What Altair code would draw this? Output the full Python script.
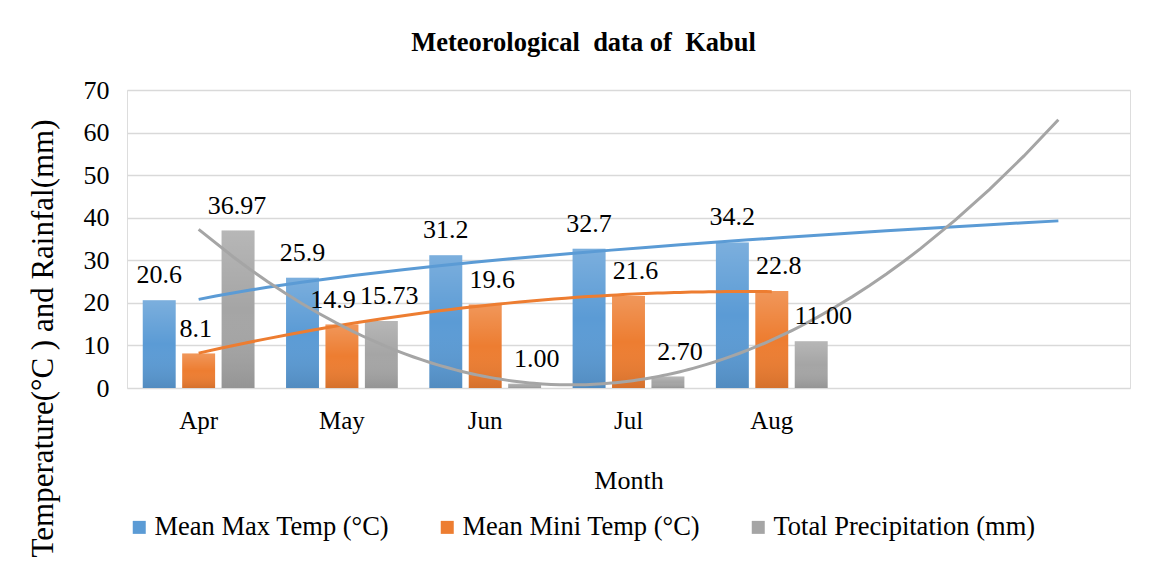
import json
import altair as alt
import pandas as pd

months = ["Apr", "May", "Jun", "Jul", "Aug"]
month_domain = months + [" ", "  "]
idx = [1, 2, 3, 4, 5]
max_temp = [20.6, 25.9, 31.2, 32.7, 34.2]
min_temp = [8.1, 14.9, 19.6, 21.6, 22.8]
precip = [36.97, 15.73, 1.00, 2.70, 11.00]
series = ["Mean Max Temp (°C)", "Mean Mini Temp (°C)", "Total Precipitation (mm)"]
colors = ["#5b9bd5", "#ed7d31", "#a5a5a5"]
y_ticks = [0, 10, 20, 30, 40, 50, 60, 70]

rows = []
for s, vals, fmt in [(series[0], max_temp, "{:.1f}"), (series[1], min_temp, "{:.1f}"), (series[2], precip, "{:.2f}")]:
    for m, i, v in zip(months, idx, vals):
        rows.append({"month": m, "idx": i, "series": s, "value": v, "label": fmt.format(v)})
df = pd.DataFrame(rows)

FONT = "Liberation Serif, Times New Roman, serif"

base = alt.Chart(df)

x_band = alt.X("month:N", sort=None,
               scale=alt.Scale(domain=month_domain, paddingInner=0.22, paddingOuter=0.11),
               axis=alt.Axis(title="Month", labelAngle=0, ticks=False, tickSize=0, domain=False,
                             labelFontSize=25, titleFontSize=26, labelPadding=20, titlePadding=34,
                             labelFont=FONT, titleFont=FONT, labelColor="#000000", titleColor="#000000",
                             titleFontWeight="normal", grid=False))
x_band_noaxis = alt.X("month:N", sort=None,
                      scale=alt.Scale(domain=month_domain, paddingInner=0.22, paddingOuter=0.11),
                      axis=None)
xoff = alt.XOffset("series:N", sort=None,
                   scale=alt.Scale(domain=series, paddingInner=0.165, paddingOuter=0))
y_enc = alt.Y("value:Q",
              scale=alt.Scale(domain=[0, 70], nice=False, zero=True),
              axis=alt.Axis(values=y_ticks, title="Temperature(°C ) and Rainfal(mm)",
                            ticks=False, tickSize=0, domain=False, grid=True,
                            gridColor="#d9d9d9", gridWidth=1.4,
                            labelFontSize=26, titleFontSize=31, labelPadding=18,
                            labelFont=FONT, titleFont=FONT, labelColor="#000000", titleColor="#000000",
                            titleFontWeight="normal", titleX=-84, titleY=248,
                            titleBaseline="middle", titleAlign="center", titleAngle=270))

bars = base.mark_bar().encode(
    x=x_band, xOffset=xoff, y=y_enc,
    color=alt.Color("series:N", sort=None,
                    scale=alt.Scale(domain=series, range=colors),
                    legend=alt.Legend(title=None, orient="none", legendX=-1, legendY=424,
                                      direction="horizontal", symbolType="square", symbolSize=169,
                                      symbolStrokeWidth=0, labelFontSize=26.5, labelFont=FONT,
                                      labelColor="#000000", columnPadding=44, labelOffset=2,
                                      labelLimit=0,
                                      labelExpr="datum.label == 'Total Precipitation (mm)' ? '\u00a0\u00a0' + datum.label : datum.label")),
)

overlay = base.mark_bar(color=alt.LinearGradient(
    gradient="linear",
    stops=[alt.GradientStop(color="rgba(255,255,255,0.2)", offset=0),
           alt.GradientStop(color="rgba(255,255,255,0.0)", offset=0.5),
           alt.GradientStop(color="rgba(0,0,0,0.1)", offset=1)],
    x1=0, x2=0, y1=0, y2=1)).encode(x=x_band_noaxis, xOffset=xoff, y=y_enc)

x_q = alt.X("idx:Q", scale=alt.Scale(domain=[0.5, 7.5], nice=False, zero=False), axis=None)


def trend(sname, color, method, ext, order=None):
    kw = {"method": method, "extent": ext}
    if order is not None:
        kw["order"] = order
    return base.transform_filter(alt.datum.series == sname).transform_regression(
        "idx", "value", **kw
    ).mark_line(color=color, strokeWidth=3).encode(x=x_q, y=y_enc)


line_max = trend(series[0], colors[0], "pow", [1, 7])
line_min = trend(series[1], colors[1], "poly", [1, 5], order=2)
line_pre = trend(series[2], colors[2], "poly", [1, 7], order=2)

# data label groups: (series, months, horizontal nudge in px as placed in the reference)
label_groups = [
    (series[0], months, 0),
    (series[1], ["Apr"], -3),
    (series[1], ["May"], -9),
    (series[1], ["Jun", "Jul", "Aug"], 7),
    (series[2], ["Apr"], -1),
    (series[2], ["May"], 8),
    (series[2], ["Jun", "Jul", "Aug"], 12),
]


def label_layer(sname, mlist, dx):
    expr = "datum.series == {} && indexof({}, datum.month) >= 0".format(
        json.dumps(sname, ensure_ascii=False), json.dumps(mlist))
    return base.transform_filter(expr).mark_text(
        baseline="alphabetic", dy=-17, dx=dx, fontSize=26, font=FONT, color="#000000"
    ).encode(x=x_band_noaxis, xOffset=xoff, y=y_enc, text="label:N")


label_layers = [label_layer(*g) for g in label_groups]

chart = alt.layer(bars, overlay, line_max, line_min, line_pre, *label_layers).resolve_scale(
    x="independent"
).properties(
    width=1003, height=298,
    padding={"left": 119, "top": 82, "right": 17, "bottom": 176},
    autosize=alt.AutoSizeParams(type="none"),
    title=alt.Title("Meteorological\u00a0 data of\u00a0 Kabul", fontSize=26.5, font=FONT,
                    fontWeight="bold", color="#000000", anchor="middle", dx=-45, offset=21),
).configure_view(stroke=None).configure(background="white", font=FONT)

chart.save("out.html", embed_options={"renderer": "svg", "actions": False})
